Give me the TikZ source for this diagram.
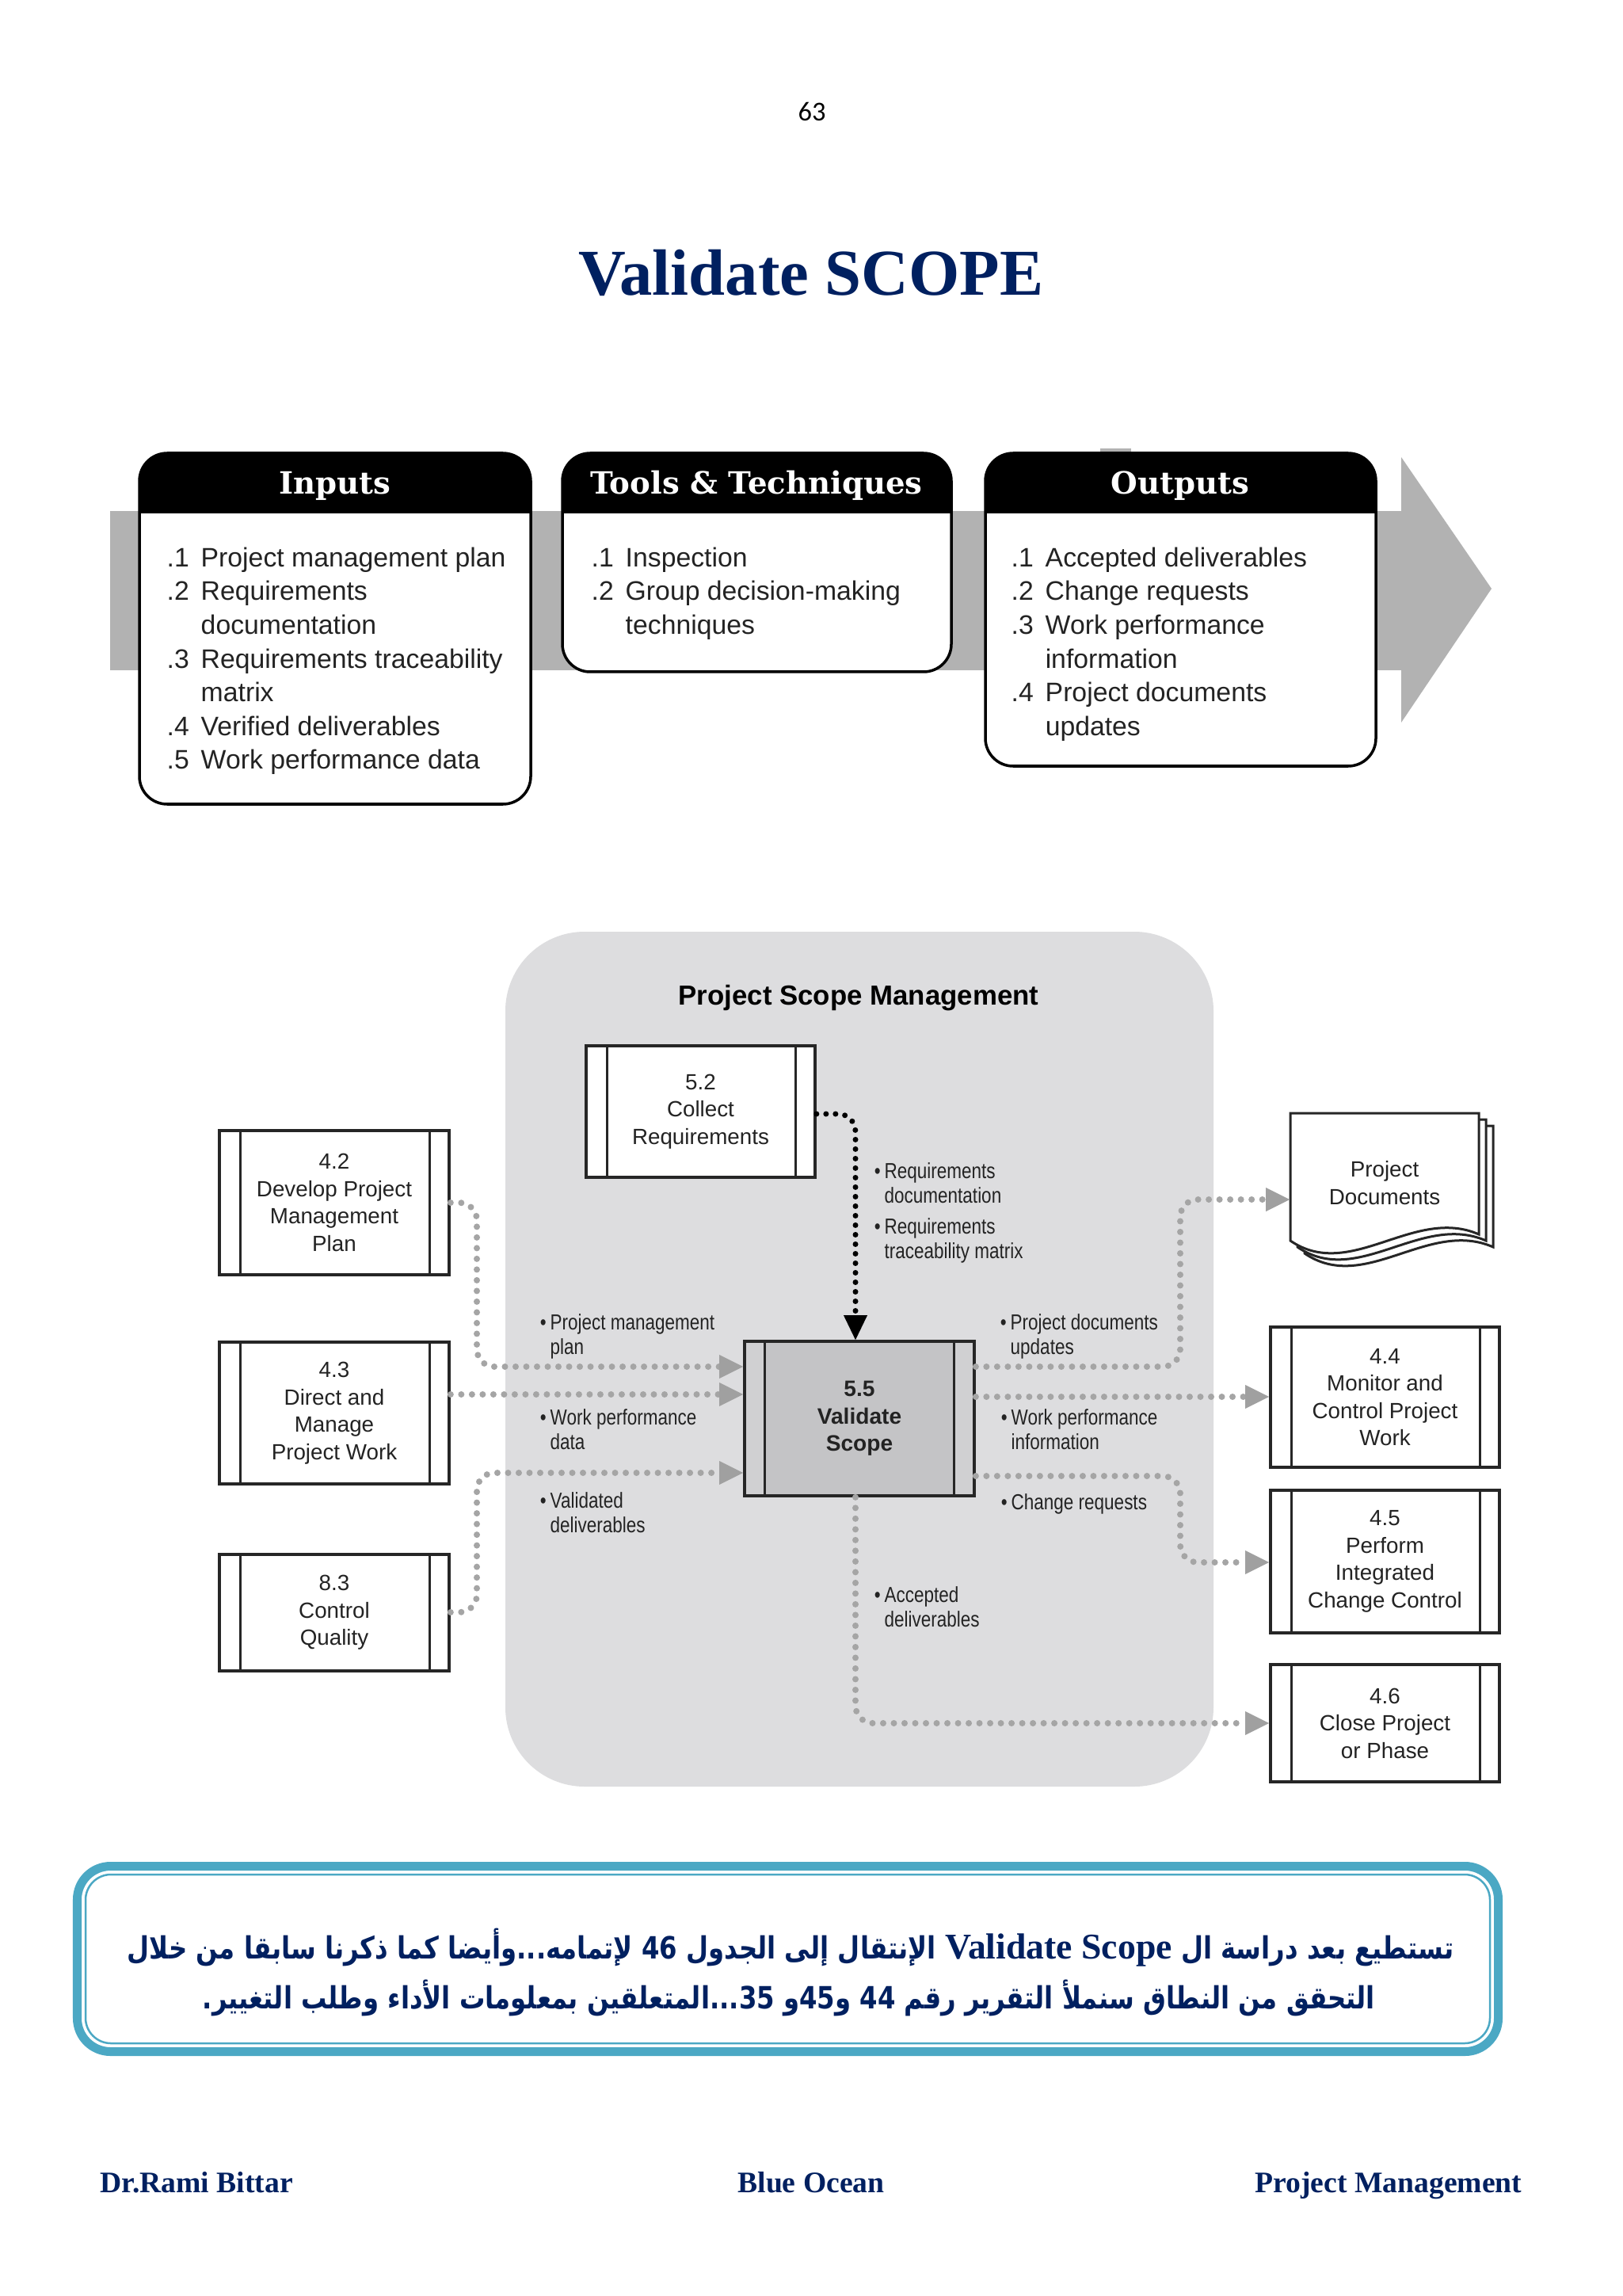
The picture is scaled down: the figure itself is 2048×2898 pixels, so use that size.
\documentclass[tikz,border=0pt]{standalone}
\usepackage{fontspec}
\setmainfont{Liberation Serif}
\newfontfamily\hdrfont{DejaVu Serif}
\newfontfamily\lsans{Liberation Sans}
\newfontfamily\lcond[FakeStretch=0.82]{Liberation Sans}
\newfontfamily\carl{Carlito}
\newfontfamily\arabicfont[Script=Arabic, FakeStretch=0.835]{DejaVu Sans}
\TeXXeTstate=1
\usetikzlibrary{arrows.meta}
\definecolor{navy}{RGB}{0,32,96}
\definecolor{bandgray}{RGB}{178,178,178}
\definecolor{panelgray}{RGB}{221,221,223}
\definecolor{boxgray}{RGB}{196,196,198}
\definecolor{stripgray}{RGB}{208,208,210}
\definecolor{dotgray}{RGB}{165,165,165}
\definecolor{arrowgray}{RGB}{160,160,160}
\definecolor{tealc}{RGB}{75,168,196}
\definecolor{ink}{RGB}{35,35,35}
\newcommand{\itm}[2]{\makebox[0.43cm][l]{#1}#2}
\newcommand{\bul}{\llap{\textbullet\hspace{0.05cm}}}
\begin{document}
\begin{tikzpicture}[x=0.01cm, y=-0.01cm,
  boxline/.style={draw=black, line width=0.035cm},
  hdrtext/.style={text=white, inner sep=0, font=\hdrfont\bfseries\fontsize{11pt}{13pt}\selectfont},
  listtext/.style={anchor=north west, inner sep=0, align=left, text=ink, font=\lsans\fontsize{9.6pt}{12.12pt}\selectfont},
  procbox/.style={draw=black!85, line width=0.035cm, fill=white, inner sep=0, align=center,
    minimum width=2.9cm, text=ink, font=\lsans\fontsize{7.9pt}{9.8pt}\selectfont,
    path picture={
      \draw[black!85, line width=0.03cm] ([xshift=0.27cm]path picture bounding box.north west) -- ([xshift=0.27cm]path picture bounding box.south west);
      \draw[black!85, line width=0.03cm] ([xshift=-0.25cm]path picture bounding box.north east) -- ([xshift=-0.25cm]path picture bounding box.south east);
    }},
  mainbox/.style={procbox, fill=boxgray, font=\lsans\bfseries\fontsize{8pt}{9.8pt}\selectfont,
    path picture={
      \fill[stripgray] (path picture bounding box.north west) rectangle ([xshift=0.26cm]path picture bounding box.south west);
      \fill[stripgray] (path picture bounding box.north east) rectangle ([xshift=-0.26cm]path picture bounding box.south east);
      \draw[black!85, line width=0.03cm] ([xshift=0.26cm]path picture bounding box.north west) -- ([xshift=0.26cm]path picture bounding box.south west);
      \draw[black!85, line width=0.03cm] ([xshift=-0.26cm]path picture bounding box.north east) -- ([xshift=-0.26cm]path picture bounding box.south east);
    }},
  lbl/.style={anchor=north west, inner sep=0, align=left, text=ink, font=\lcond\fontsize{7.8pt}{8.8pt}\selectfont},
  flow/.style={draw=dotgray, line width=0.08cm, line cap=round, dash pattern=on 0pt off 0.135cm,
    rounded corners=0.22cm, -{Triangle[length=0.3cm, width=0.3cm, line width=0pt, color=arrowgray, fill=arrowgray]}},
  flowblack/.style={draw=black, line width=0.07cm, line cap=round, dash pattern=on 0pt off 0.12cm,
    rounded corners=0.22cm, -{Triangle[length=0.31cm, width=0.3cm, line width=0pt, color=black, fill=black]}},
  footer/.style={inner sep=0, text=navy, font=\bfseries\fontsize{10.7pt}{13pt}\selectfont},
  arabic/.style={inner sep=0, text=navy, font=\arabicfont\bfseries\fontsize{11pt}{14pt}\selectfont}
]
\useasboundingbox (0,0) rectangle (2048,2898);
\fill[white] (0,0) rectangle (2048,2898);

% page number and title
\node[anchor=base, inner sep=0, font=\carl\fontsize{9.8pt}{12pt}\selectfont] (pagenum) at (1025,153) {63};
\node[anchor=base, inner sep=0, text=navy, font=\bfseries\fontsize{23.5pt}{28pt}\selectfont] (title) at (1024,373) {Validate SCOPE};

% ---------- ITTO banner ----------
\fill[bandgray] (139,645) rectangle (1769,846);
\fill[bandgray] (1769,577) -- (1883,743) -- (1769,912) -- cycle;
\fill[bandgray] (1389,566) rectangle (1428,575);

\draw[boxline, fill=white, rounded corners=0.35cm] (176,572) rectangle (670,1015);
\begin{scope}
  \clip (170,560) rectangle (676,648);
  \fill[black, rounded corners=0.35cm] (176,572) rectangle (670,720);
\end{scope}
\draw[boxline, fill=white, rounded corners=0.35cm] (710,572) rectangle (1201,848);
\begin{scope}
  \clip (704,560) rectangle (1207,648);
  \fill[black, rounded corners=0.35cm] (710,572) rectangle (1201,720);
\end{scope}
\draw[boxline, fill=white, rounded corners=0.35cm] (1244,572) rectangle (1737,967);
\begin{scope}
  \clip (1238,560) rectangle (1743,648);
  \fill[black, rounded corners=0.35cm] (1244,572) rectangle (1737,720);
\end{scope}

\node[hdrtext] (hin) at (423,613) {Inputs};
\node[hdrtext] (htt) at (955,613) {Tools \& Techniques};
\node[hdrtext] (hout) at (1490,613) {Outputs};

\node[listtext] (lin) at (210,690) {\itm{.1}{Project management plan}\\
\itm{.2}{Requirements}\\
\itm{}{documentation}\\
\itm{.3}{Requirements traceability}\\
\itm{}{matrix}\\
\itm{.4}{Verified deliverables}\\
\itm{.5}{Work performance data}};
\node[listtext] (ltt) at (746,690) {\itm{.1}{Inspection}\\
\itm{.2}{Group decision-making}\\
\itm{}{techniques}};
\node[listtext] (lout) at (1276,690) {\itm{.1}{Accepted deliverables}\\
\itm{.2}{Change requests}\\
\itm{.3}{Work performance}\\
\itm{}{information}\\
\itm{.4}{Project documents}\\
\itm{}{updates}};

% ---------- Data flow diagram ----------
\fill[panelgray, rounded corners=1cm] (638,1176) rectangle (1532,2255);
\node[anchor=base, inner sep=0, text=black, font=\lsans\bfseries\fontsize{9.9pt}{12pt}\selectfont] (psm) at (1084,1268) {Project Scope Management};

\node[procbox, minimum height=1.82cm] (n42) at (422,1518) {4.2\\Develop Project\\Management\\Plan};
\node[procbox, minimum height=1.79cm] (n43) at (422,1783.5) {4.3\\Direct and\\Manage\\Project Work};
\node[procbox, minimum height=1.47cm] (n83) at (422,2035.5) {8.3\\Control\\Quality};
\node[procbox, minimum width=2.89cm, minimum height=1.66cm] (n52) at (884.5,1403) {5.2\\Collect\\Requirements};
\node[mainbox, minimum height=1.95cm] (n55) at (1085,1790.5) {5.5\\Validate\\Scope};
\node[procbox, minimum width=2.89cm, minimum height=1.77cm] (n44) at (1748.5,1763.5) {4.4\\Monitor and\\Control Project\\Work};
\node[procbox, minimum width=2.89cm, minimum height=1.80cm] (n45) at (1748.5,1971) {4.5\\Perform\\Integrated\\Change Control};
\node[procbox, minimum width=2.89cm, minimum height=1.48cm] (n46) at (1748.5,2175) {4.6\\Close Project\\or Phase};

% project documents (stacked pages)
\foreach \dx/\dy in {18/16, 9/8, 0/0}{
  \begin{scope}[shift={(\dx,\dy)}]
    \draw[black!85, line width=0.03cm, fill=white] (1629,1405) -- (1867,1405) -- (1867,1558)
      .. controls (1785,1522) and (1705,1618) .. (1629,1566) -- cycle;
  \end{scope}
}
\node[inner sep=0, minimum width=2.38cm, align=center, text=ink, font=\lsans\fontsize{7.9pt}{9.8pt}\selectfont] (pd) at (1748,1493) {Project\\Documents};

% connectors
\draw[flow] (n42.east) -- (602,1518) -- (602,1725) -- (n55.west |- 0,1725);
\draw[flow] (n43.east |- 0,1760) -- (n55.west |- 0,1760);
\draw[flow] (n83.east |- 0,2035) -- (602,2035) -- (602,1859) -- (n55.west |- 0,1859);
\draw[flowblack] (n52.east |- 0,1406) -- (1080,1406) -- (n55.north -| 1080,0);
\draw[flow] (n55.east |- 0,1725) -- (1490,1725) -- (1490,1514) -- (pd.west |- 0,1514);
\draw[flow] (n55.east |- 0,1763) -- (n44.west |- 0,1763);
\draw[flow] (n55.east |- 0,1863) -- (1490,1863) -- (1490,1972) -- (n45.west |- 0,1972);
\draw[flow] (n55.south -| 1080,0) -- (1080,2175) -- (n46.west |- 0,2175);

% flow labels
\node[lbl] (l1) at (694,1658) {\bul Project management\\plan};
\node[lbl] (l2) at (694,1778) {\bul Work performance\\data};
\node[lbl] (l3) at (694,1883) {\bul Validated\\deliverables};
\node[lbl] (l4) at (1116,1467) {\bul Requirements\\documentation};
\node[lbl] (l5) at (1116,1537) {\bul Requirements\\traceability matrix};
\node[lbl] (l6) at (1275,1658) {\bul Project documents\\updates};
\node[lbl] (l7) at (1276,1778) {\bul Work performance\\information};
\node[lbl] (l8) at (1276,1885) {\bul Change requests};
\node[lbl] (l9) at (1116,2002) {\bul Accepted\\deliverables};

% ---------- Arabic note ----------
\draw[tealc, line width=0.11cm, rounded corners=0.42cm] (97.5,2355.5) rectangle (1891.5,2589.5);
\draw[tealc, line width=0.025cm, rounded corners=0.32cm] (108,2366) rectangle (1881,2579);
\node[arabic] (ar1) at (998,2458)
  {\beginR تستطيع بعد دراسة ال \beginL{\rmfamily\bfseries\fontsize{13pt}{14pt}\selectfont Validate Scope}\endL{}  الإنتقال إلى الجدول \beginL 46\endL{}  لإتمامه...وأيضا كما ذكرنا سابقا من خلال\endR};
\node[arabic] (ar2) at (996,2522)
  {\beginR التحقق من النطاق سنملأ التقرير رقم \beginL 44\endL{} و\beginL 45\endL{}و \beginL 35\endL{}...المتعلقين بمعلومات الأداء وطلب التغيير.\endR};

% ---------- footer ----------
\node[footer, anchor=base west] (f1) at (126,2767) {Dr.Rami Bittar};
\node[footer, anchor=base] (f2) at (1024,2767) {Blue Ocean};
\node[footer, anchor=base east] (f3) at (1922,2767) {Project Management};
\end{tikzpicture}
\end{document}
